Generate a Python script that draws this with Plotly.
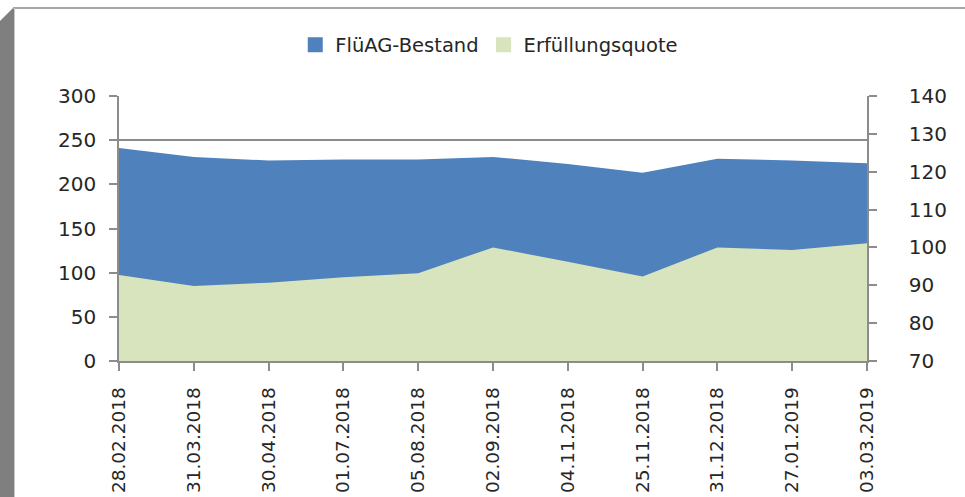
import plotly.graph_objects as go

dates = ["28.02.2018", "31.03.2018", "30.04.2018", "01.07.2018", "05.08.2018",
         "02.09.2018", "04.11.2018", "25.11.2018", "31.12.2018", "27.01.2019", "03.03.2019"]
bestand = [241, 231, 227, 228, 228, 231, 223, 213, 229, 227, 224]
quote = [92.7, 89.8, 90.7, 92.1, 93.2, 100.0, 96.2, 92.3, 100.0, 99.3, 101.1]
series_names = ["FlüAG-Bestand", "Erfüllungsquote"]
series_colors = ["#4f81bd", "#d7e4bd"]

W, H = 965, 497
ML, MR, MT, MB = 119, 98, 96, 136
PW, PH = W - ML - MR, H - MT - MB


def px(x):
    return (x - ML) / PW


def py(y):
    return (H - MB - y) / PH


FONT = "DejaVu Sans"
TXT = "#262626"
GRID = "#8c8c8c"

fig = go.Figure()
fig.add_trace(go.Scatter(
    x=dates, y=bestand, name=series_names[0], mode="lines", showlegend=False,
    line=dict(width=0, color=series_colors[0]), fill="tozeroy", fillcolor=series_colors[0],
    yaxis="y", hoverinfo="x+y"))
fig.add_trace(go.Scatter(
    x=dates, y=quote, name=series_names[1], mode="lines", showlegend=False,
    line=dict(width=0, color=series_colors[1]), fill="tozeroy", fillcolor=series_colors[1],
    yaxis="y2", hoverinfo="x+y"))
# legend entries with square swatches
for nm, col in zip(series_names, series_colors):
    fig.add_trace(go.Scatter(
        x=[None], y=[None], name=nm, mode="markers",
        marker=dict(symbol="square", size=15, color=col), showlegend=True))

shapes = [
    dict(type="path", xref="paper", yref="paper",
         path=f"M {px(0)} {py(21)} L {px(13)} {py(8)} L {px(14)} {py(8)} L {px(14)} {py(497)} L {px(0)} {py(497)} Z",
         fillcolor="#7f7f7f", line=dict(width=0), layer="above"),
    dict(type="line", xref="paper", yref="paper",
         x0=px(13), x1=px(965), y0=py(8), y1=py(8),
         line=dict(color="#a6a6a6", width=2), layer="above"),
    dict(type="line", xref="paper", yref="paper",
         x0=px(14.5), x1=px(14.5), y0=py(8), y1=py(497),
         line=dict(color="#c8c8c8", width=1), layer="above"),
]

fig.update_layout(
    width=W, height=H, autosize=False,
    margin=dict(l=ML, r=MR, t=MT, b=MB, autoexpand=False),
    paper_bgcolor="white", plot_bgcolor="white",
    font=dict(family=FONT, size=19, color=TXT),
    showlegend=True,
    legend=dict(orientation="h", x=0.495, xanchor="center", y=py(45), yanchor="middle",
                font=dict(size=19.5, color=TXT), itemwidth=30, tracegroupgap=0),
    xaxis=dict(type="category", range=[0, len(dates) - 1], tickangle=-90,
               showline=True, linecolor=GRID, linewidth=1.5,
               ticks="outside", ticklen=8, tickcolor=GRID, tickwidth=1.5,
               showgrid=False, zeroline=False, tickfont=dict(size=18.5),
               ticklabelstandoff=9, automargin=False),
    yaxis=dict(range=[0, 300], dtick=50, showline=True, linecolor=GRID, linewidth=1.5,
               ticks="outside", ticklen=8, tickcolor=GRID, tickwidth=1.5,
               showgrid=True, gridcolor=GRID, gridwidth=1.5, zeroline=False,
               tickfont=dict(size=20), ticklabelstandoff=9, automargin=False),
    yaxis2=dict(range=[70, 140], dtick=10, overlaying="y", side="right",
                showline=True, linecolor=GRID, linewidth=1.5,
                ticks="outside", ticklen=8, tickcolor=GRID, tickwidth=1.5,
                showgrid=False, zeroline=False, tickfont=dict(size=20),
                ticklabelstandoff=28, automargin=False),
    shapes=shapes,
)

fig.write_html("out.html", config={"displayModeBar": False, "responsive": False},
               post_script="document.body.style.margin='0';")
